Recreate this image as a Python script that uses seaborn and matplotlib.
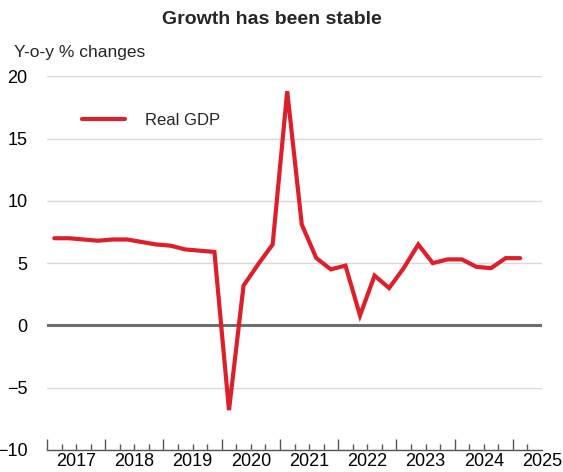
import matplotlib
matplotlib.use("Agg")
import matplotlib.pyplot as plt
import numpy as np
import pandas as pd
import seaborn as sns

# quarterly real GDP, y-o-y % changes
quarters = ["2017Q1", "2017Q2", "2017Q3", "2017Q4",
            "2018Q1", "2018Q2", "2018Q3", "2018Q4",
            "2019Q1", "2019Q2", "2019Q3", "2019Q4",
            "2020Q1", "2020Q2", "2020Q3", "2020Q4",
            "2021Q1", "2021Q2", "2021Q3", "2021Q4",
            "2022Q1", "2022Q2", "2022Q3", "2022Q4",
            "2023Q1", "2023Q2", "2023Q3", "2023Q4",
            "2024Q1", "2024Q2", "2024Q3", "2024Q4",
            "2025Q1"]
real_gdp = [7.0, 7.0, 6.9, 6.8,
            6.9, 6.9, 6.7, 6.5,
            6.4, 6.1, 6.0, 5.9,
            -6.8, 3.2, 4.9, 6.5,
            18.8, 8.1, 5.4, 4.5,
            4.8, 0.8, 4.0, 3.0,
            4.6, 6.5, 5.0, 5.3,
            5.3, 4.7, 4.6, 5.4,
            5.4]
year_labels = [2017, 2018, 2019, 2020, 2021, 2022, 2023, 2024, 2025]
y_ticks = [-10, -5, 0, 5, 10, 15, 20]

df = pd.DataFrame({"quarter": quarters, "value": real_gdp})
# place each quarter at its midpoint on a fractional-year axis
df["x"] = [int(q[:4]) + (int(q[-1]) - 0.5) / 4 for q in df["quarter"]]

sns.set_theme(style="white")
plt.rcParams["font.family"] = ["Liberation Sans", "DejaVu Sans"]

fig = plt.figure(figsize=(5.63, 4.72), dpi=100)
ax = fig.add_axes([47 / 563, 1 - 450 / 472, 495 / 563, 373.7 / 472])

sns.lineplot(data=df, x="x", y="value", ax=ax, color="#dc1f2b", linewidth=3,
             label="Real GDP", solid_joinstyle="miter")

ax.set_xlim(2017, 2025.5)
ax.set_ylim(-10, 20)
ax.set_yticks(y_ticks)
ax.yaxis.grid(True, color="#d9d9d9", linewidth=1)
ax.xaxis.grid(False)
ax.axhline(0, color="#6e6e6e", linewidth=2.2, zorder=1)

for s in ["left", "right", "top"]:
    ax.spines[s].set_visible(False)
ax.spines["bottom"].set_color("#555555")
ax.spines["bottom"].set_linewidth(1)

# year boundaries as major ticks, quarters as minor ticks
ax.set_xticks(year_labels)
ax.set_xticklabels([])
ax.set_xticks(np.arange(2017, 2025.5, 0.25), minor=True)
ax.tick_params(axis="x", which="major", direction="in", length=8, width=1, color="#555555", bottom=True)
ax.tick_params(axis="x", which="minor", direction="in", length=4, width=1, color="#555555", bottom=True)
ax.tick_params(axis="y", length=0, pad=14, labelsize=13, labelcolor="black")
ax.set_xlabel("")
ax.set_ylabel("")

# year labels centred on each year
sec = ax.secondary_xaxis("bottom")
sec.set_xticks([y + 0.5 for y in year_labels])
sec.set_xticklabels([str(y) for y in year_labels])
sec.tick_params(length=0, pad=2, labelsize=13, labelcolor="black")
sec.spines["bottom"].set_visible(False)

ax.legend(loc="center left", bbox_to_anchor=(0.07, 0.882), frameon=False,
          borderpad=0, borderaxespad=0, handlelength=2.6, handletextpad=1.2,
          fontsize=12)

fig.text(272 / 563, 1 - 20 / 472, "Growth has been stable", ha="center", va="center",
         fontsize=14, fontweight="bold")
fig.text(14 / 563, 1 - 52 / 472, "Y-o-y % changes", ha="left", va="center", fontsize=12.5)

fig.savefig("out.png", dpi=100)
